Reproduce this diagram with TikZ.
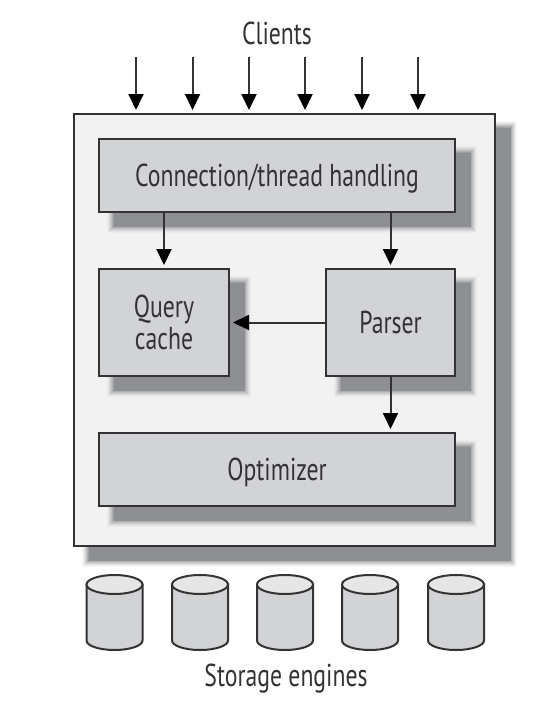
\documentclass[tikz,border=0pt]{standalone}
\usepackage{fontspec}
\setmainfont[FakeStretch=0.75]{PT Sans}
\usetikzlibrary{arrows.meta}
\definecolor{linedark}{HTML}{333335}
\definecolor{boxgray}{HTML}{D2D3D5}
\definecolor{panelgray}{HTML}{F2F2F2}
\definecolor{lidgray}{HTML}{E6E6E6}
\definecolor{shadowgray}{HTML}{8E8F92}
\def\pxu{0.02cm}
\tikzset{
	softlayer/.style n args={3}{preaction={transform canvas={xshift=15*\pxu, yshift=-14*\pxu}, draw=shadowgray!#2!#3, fill=shadowgray!#2!#3, line width=#1*\pxu}},
	softshadow/.style={softlayer={14}{6}{#1}, softlayer={12}{14}{#1}, softlayer={10}{25}{#1}, softlayer={8}{38}{#1}, softlayer={6}{52}{#1}, softlayer={4}{68}{#1}, softlayer={2}{84}{#1}, softlayer={0.1}{100}{#1}},
	panel/.style={draw=linedark, line width=2*\pxu, fill=panelgray, inner sep=0pt, outer sep=0pt, softshadow=white},
	stage/.style={draw=linedark, line width=2*\pxu, fill=boxgray, inner sep=0pt, outer sep=0pt, align=center, text=linedark, text depth=0pt, softshadow=panelgray},
	enginebody/.style={draw=linedark, line width=2*\pxu, fill=boxgray},
	enginelid/.style={draw=linedark, line width=2*\pxu, fill=lidgray},
	caption/.style={text=linedark, inner sep=0pt, text depth=0pt},
	flow/.style={->, draw=linedark, line width=2*\pxu, shorten >=4*\pxu}
}
\begin{document}
\begin{tikzpicture}[x=\pxu, y=-\pxu, >={Stealth[inset=0pt,length=16*\pxu,width=15*\pxu,color=black]}, font=\fontsize{18}{18}\selectfont]
	\useasboundingbox (0,0) rectangle (548,714);
	% server box
	\node[panel, minimum width=421*\pxu, minimum height=432*\pxu] (server) at (284.5,330) {};
	\node[stage, minimum width=356*\pxu, minimum height=73*\pxu] (conn) at (277,175.5) {Connection/thread handling};
	\node[stage, minimum width=130*\pxu, minimum height=107*\pxu] (query) at (164,322.5) {Query\\cache};
	\node[stage, minimum width=129*\pxu, minimum height=107*\pxu] (parser) at (390.5,322.5) {Parser};
	\node[stage, minimum width=356*\pxu, minimum height=73*\pxu] (optimizer) at (277,469.5) {Optimizer};
	\node[caption] (clients) at (277,33) {Clients};
	\node[caption] (storage) at (286,675) {Storage engines};
	% clients
	\foreach \x [count=\i] in {136,192.5,249,305,362,418}{
		\coordinate (client\i) at (\x,57);
		\draw[flow] (client\i)--(client\i |- server.north);
	}
	% inner arrows
	\draw[flow] (query.north |- conn.south)--(query.north);
	\draw[flow] (parser.north |- conn.south)--(parser.north);
	\draw[flow] (parser.west)--(query.east);
	\draw[flow] (parser.south)--(parser.south |- optimizer.north);
	% storage engines
	\foreach \x [count=\i] in {114.5,200,285,370,456}{
		\coordinate (engine\i) at (\x,584.5);
		\draw[enginebody] (engine\i) ++(-28,0) -- ++(0,56) arc[start angle=180, end angle=360, x radius=28*\pxu, y radius=9.5*\pxu] -- ++(0,-56) -- cycle;
		\draw[enginelid] (engine\i) ellipse[x radius=28*\pxu, y radius=9.5*\pxu];
	}
\end{tikzpicture}
\end{document}
